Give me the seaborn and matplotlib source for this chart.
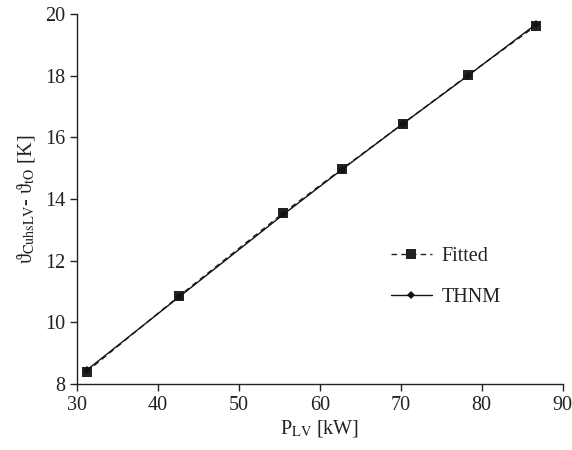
import matplotlib
matplotlib.use("Agg")
import matplotlib.pyplot as plt
import seaborn as sns
import pandas as pd

p_lv = [31.2, 42.6, 55.5, 62.7, 70.3, 78.3, 86.7]
fitted = [8.40, 10.85, 13.55, 14.97, 16.45, 18.02, 19.62]
thnm = [8.45, 10.82, 13.50, 14.95, 16.45, 18.00, 19.67]

sns.set_theme(style="ticks")
plt.rcParams['font.family'] = ['Liberation Serif', 'DejaVu Serif']
plt.rcParams['mathtext.fontset'] = 'stix'

df = pd.concat([
    pd.DataFrame({"x": p_lv, "y": fitted, "s": "Fitted"}),
    pd.DataFrame({"x": p_lv, "y": thnm, "s": "THNM"}),
])

fig = plt.figure(figsize=(5.72, 4.5), dpi=100)
ax = fig.add_axes([0.1346, 0.1467, 0.849, 0.822])

sns.lineplot(data=df[df.s == "Fitted"], x="x", y="y", ax=ax, color="#222222",
             linestyle=(0, (4, 3)), linewidth=1.0, marker="s", markersize=7,
             markeredgewidth=0, label="Fitted")
sns.lineplot(data=df[df.s == "THNM"], x="x", y="y", ax=ax, color="#111111",
             linestyle="-", linewidth=1.0, marker="D", markersize=4,
             markeredgewidth=0, label="THNM")

ax.set_xlim(30, 90)
ax.set_ylim(8, 20)
ax.set_xticks([30, 40, 50, 60, 70, 80, 90])
ax.set_yticks([8, 10, 12, 14, 16, 18, 20])
for s in ["top", "right"]:
    ax.spines[s].set_visible(False)
for s in ["left", "bottom"]:
    ax.spines[s].set_color("#222222")
    ax.spines[s].set_linewidth(1.0)
ax.tick_params(axis="both", labelsize=14.5, colors="#222222", length=5, width=1.0, direction="out")
ax.set_xlabel(r"P$_{\mathrm{LV}}$ [kW]", fontsize=14.5, color="#222222", labelpad=2)
ax.set_ylabel("ϑ$_{\\mathrm{CuhsLV}}$- ϑ$_{\\mathrm{tO}}$ [K]", fontsize=14.5, color="#222222", labelpad=6)

leg = ax.legend(loc="upper left", bbox_to_anchor=(0.61, 0.42), frameon=False,
                fontsize=14.5, handlelength=2.0, labelspacing=1.1, handletextpad=0.5)
for t in leg.get_texts():
    t.set_color("#222222")

fig.savefig("out.png", dpi=100)
